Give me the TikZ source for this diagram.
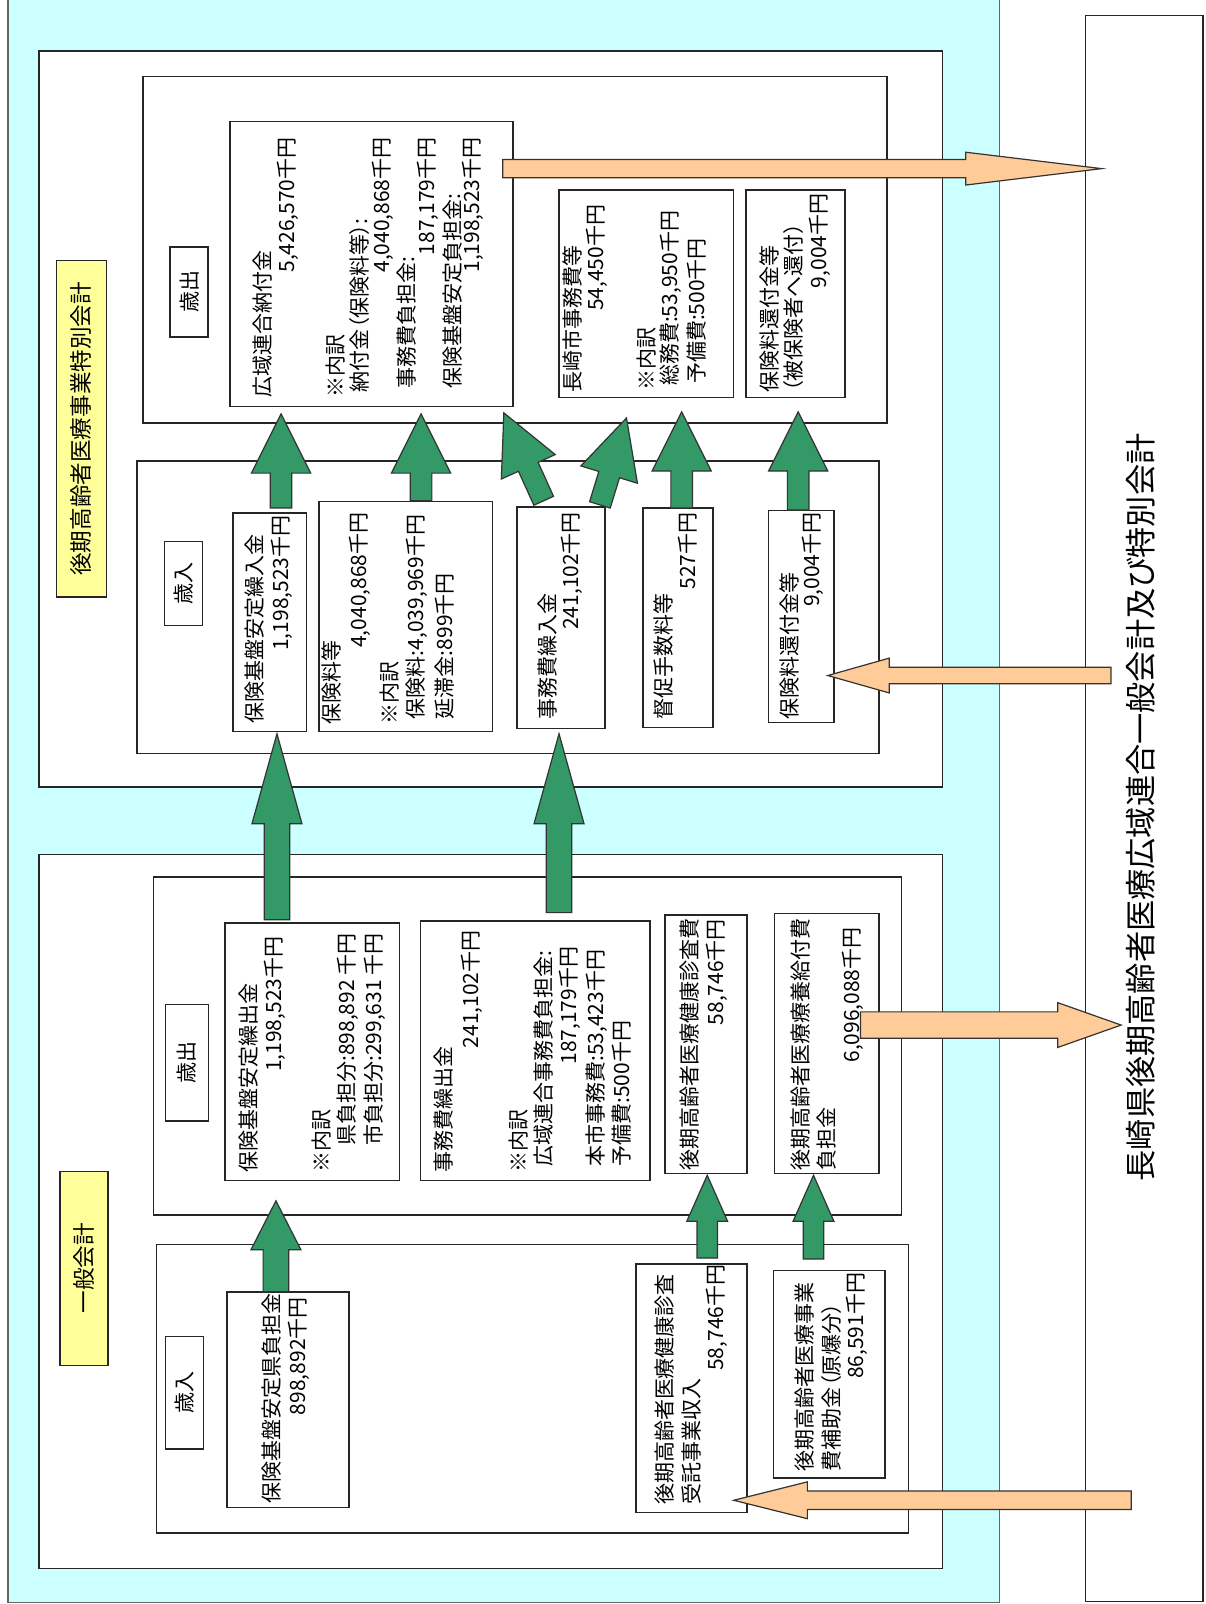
\documentclass[tikz,border=0pt]{standalone}
\usepackage{fontspec}
\setmainfont{Noto Sans CJK JP}[RawFeature=+palt]
\usetikzlibrary{calc}
\definecolor{cyanbg}{HTML}{CCFFFF}
\definecolor{yel}{HTML}{FFFF99}
\definecolor{grn}{HTML}{339966}
\definecolor{org}{HTML}{FFCC99}
\tikzset{
  box/.style={draw=black!85, line width=0.7pt, fill=white},
  lab/.style={draw=black!85, line width=0.7pt, fill=white, rotate=90, inner sep=0pt, font=\fontsize{10.5pt}{12pt}\selectfont},
  ylab/.style={lab, fill=yel, font=\fontsize{11.3pt}{13pt}\selectfont},
  txt/.style={rotate=90, inner sep=0pt, font=\fontsize{10.5pt}{12pt}\selectfont},
  lt/.style={txt, anchor=west},
  rt/.style={txt, anchor=east},
  garrow/.style={draw=black!80, line width=0.6pt, fill=grn},
  oarrow/.style={draw=black!80, line width=0.6pt, fill=org},
}
% block arrow: style, from, to, shaft half width, head half width, head length
\newcommand\blockarr[6]{%
  \coordinate (hb) at ($(#3)!#6!(#2)$);
  \draw[#1] ($(#2)!#4!90:(#3)$) -- ($(hb)!#4!90:(#3)$) -- ($(hb)!#5!90:(#3)$) -- (#3)
    -- ($(hb)!#5!-90:(#3)$) -- ($(hb)!#4!-90:(#3)$) -- ($(#2)!#4!-90:(#3)$) -- cycle;}
\begin{document}
\begin{tikzpicture}[x=0.511pt,y=-0.511pt]
\useasboundingbox (0,0) rectangle (1180,1569.5);
\fill[white] (0,0) rectangle (1180,1569.5);
% background
\draw[fill=cyanbg, draw=black!60, line width=0.7pt] (8,-5) rectangle (978,1568);
\draw[box] (1062,15) rectangle (1177,1567);
\node[txt, font=\fontsize{15.6pt}{17pt}\selectfont] (title) at (1116,790) {長崎県後期高齢者医療広域連合一般会計及び特別会計};

% ===== special account =====
\draw[box] (38,50) rectangle (922,770);
\node[ylab, minimum width=329*0.511pt, minimum height=49*0.511pt] (sLabel) at (79.5,419.5) {後期高齢者医療事業特別会計};
\draw[box] (140,75) rectangle (868,414);
\node[lab, minimum width=88*0.511pt, minimum height=37*0.511pt] (sOutLab) at (185,285.7) {歳出};
\draw[box] (134,451) rectangle (860,737);
\node[lab, minimum width=82*0.511pt, minimum height=37*0.511pt] (sInLab) at (179.5,571) {歳入};

% 歳出 boxes
\draw[box] (225,119) rectangle (502,398);
\node[lt] (s1a) at (257,389) {広域連合納付金};
\node[rt] (s1b) at (282,134) {5,426,570千円};
\node[lt] (s1c) at (328,389) {※内訳};
\node[lt] (s1d) at (352,384) {納付金（保険料等）:};
\node[rt] (s1e) at (375,134) {4,040,868千円};
\node[lt] (s1f) at (398,381) {事務費負担金:};
\node[rt] (s1g) at (419,134) {187,179千円};
\node[lt] (s1h) at (443,381) {保険基盤安定負担金:};
\node[rt] (s1i) at (463,134) {1,198,523千円};

\draw[box] (547,186) rectangle (718,389);
\node[lt] (s2a) at (560,384) {長崎市事務費等};
\node[rt] (s2b) at (584,200) {54,450千円};
\node[lt] (s2c) at (633,382) {※内訳};
\node[lt] (s2d) at (656,378) {総務費:53,950千円};
\node[lt] (s2e) at (682,376) {予備費:500千円};

\draw[box] (730,186) rectangle (827,389);
\node[lt] (s3a) at (753,384) {保険料還付金等};
\node[lt] (s3b) at (776,384) {（被保険者へ還付）};
\node[rt] (s3c) at (802,189) {9,004千円};

% 歳入 boxes
\draw[box] (228,502) rectangle (300,716);
\node[lt] (s4a) at (249.5,708) {保険基盤安定繰入金};
\node[rt] (s4b) at (276,504) {1,198,523千円};

\draw[box] (312,491) rectangle (482,716);
\node[lt] (s5a) at (324.6,709) {保険料等};
\node[rt] (s5b) at (352,501) {4,040,868千円};
\node[lt] (s5c) at (381.6,709) {※内訳};
\node[lt] (s5d) at (407.7,704) {保険料:4,039,969千円};
\node[lt] (s5e) at (435.4,704) {延滞金:899千円};

\draw[box] (506,496) rectangle (592,713);
\node[lt] (s6a) at (536,704.5) {事務費繰入金};
\node[rt] (s6b) at (559.6,500.6) {241,102千円};

\draw[box] (629,497) rectangle (697.6,712);
\node[lt] (s7a) at (649,704.5) {督促手数料等};
\node[rt] (s7b) at (673,501) {527千円};

\draw[box] (752,499.7) rectangle (816,707);
\node[lt] (s8a) at (773,704.5) {保険料還付金等};
\node[rt] (s8b) at (795.6,501) {9,004千円};

% ===== general account =====
\draw[box] (38,836) rectangle (922,1535);
\node[ylab, minimum width=190*0.511pt, minimum height=47*0.511pt] (gLabel) at (82.2,1241) {一般会計};
\draw[box] (150,858) rectangle (882,1189);
\node[lab, minimum width=114*0.511pt, minimum height=42*0.511pt] (gOutLab) at (183,1040) {歳出};
\draw[box] (153,1218) rectangle (889,1500);
\node[lab, minimum width=110*0.511pt, minimum height=37*0.511pt] (gInLab) at (180.5,1363) {歳入};

% 歳出 boxes
\draw[box] (220,903) rectangle (391,1155);
\node[lt] (g1a) at (242.8,1148) {保険基盤安定繰出金};
\node[rt] (g1b) at (269,916) {1,198,523千円};
\node[lt] (g1c) at (314.7,1148) {※内訳};
\node[rt] (g1d) at (340.6,913) {県負担分:898,892 千円};
\node[rt] (g1e) at (367,913) {市負担分:299,631 千円};

\draw[box] (411.6,901) rectangle (636,1155);
\node[lt] (g2a) at (433.6,1148) {事務費繰出金};
\node[rt] (g2b) at (461.5,910) {241,102千円};
\node[lt] (g2c) at (507,1148) {※内訳};
\node[lt] (g2d) at (531.6,1142) {広域連合事務費負担金:};
\node[rt] (g2e) at (557.7,926) {187,179千円};
\node[lt] (g2f) at (583.8,1142) {本市事務費:53,423千円};
\node[lt] (g2g) at (608.3,1142) {予備費:500千円};

\draw[box] (650.7,895.3) rectangle (731,1148);
\node[lt] (g3a) at (675,1146) {後期高齢者医療健康診査費};
\node[rt] (g3b) at (701.3,899) {58,746千円};

\draw[box] (758,893.6) rectangle (860,1148);
\node[lt] (g4a) at (783,1146) {後期高齢者医療療養給付費};
\node[lt] (g4b) at (809,1146) {負担金};
\node[rt] (g4c) at (834.8,907) {6,096,088千円};

% 歳入 boxes
\draw[box] (222,1264) rectangle (341.5,1475);
\node[lt] (g5a) at (265.8,1472) {保険基盤安定県負担金};
\node[rt] (g5b) at (291.9,1269) {898,892千円};

\draw[box] (622.3,1236.8) rectangle (731,1480);
\node[lt] (g6a) at (650.7,1473) {後期高齢者医療健康診査};
\node[lt] (g6b) at (676.8,1473) {受託事業収入};
\node[rt] (g6c) at (701.3,1237) {58,746千円};

\draw[box] (757,1243) rectangle (866,1446);
\node[lt] (g7a) at (787.7,1440) {後期高齢者医療事業};
\node[lt] (g7b) at (813.8,1440) {費補助金（原爆分）};
\node[rt] (g7c) at (838.2,1245) {86,591千円};

% ===== arrows =====
\coordinate (a1s) at (275,497);  \coordinate (a1e) at (275,405);
\coordinate (a2s) at (412,490);  \coordinate (a2e) at (412,405);
\coordinate (a3s) at (532,490);  \coordinate (a3e) at (493,404);
\coordinate (a4s) at (587,494);  \coordinate (a4e) at (613,409);
\coordinate (a5s) at (667,497);  \coordinate (a5e) at (667,403);
\coordinate (a6s) at (781,499);  \coordinate (a6e) at (781,403);
\coordinate (a7s) at (271,900);  \coordinate (a7e) at (271,718);
\coordinate (a8s) at (547,893);  \coordinate (a8e) at (547,718);
\coordinate (a9s) at (270,1264); \coordinate (a9e) at (270,1175);
\coordinate (a10s) at (692,1231); \coordinate (a10e) at (692,1150);
\coordinate (a11s) at (796,1232); \coordinate (a11e) at (796,1150);
\blockarr{garrow}{a1s}{a1e}{5.4pt}{14.8pt}{29.6pt}
\blockarr{garrow}{a2s}{a2e}{5.4pt}{14.8pt}{29.6pt}
\blockarr{garrow}{a3s}{a3e}{5.4pt}{14.8pt}{29.6pt}
\blockarr{garrow}{a4s}{a4e}{5.4pt}{14.8pt}{29.6pt}
\blockarr{garrow}{a5s}{a5e}{5.4pt}{14.8pt}{29.6pt}
\blockarr{garrow}{a6s}{a6e}{5.4pt}{14.8pt}{29.6pt}
\blockarr{garrow}{a7s}{a7e}{6.4pt}{12.5pt}{45pt}
\blockarr{garrow}{a8s}{a8e}{6.4pt}{12.5pt}{45pt}
\blockarr{garrow}{a9s}{a9e}{6.4pt}{12.5pt}{24.5pt}
\blockarr{garrow}{a10s}{a10e}{5.1pt}{10.2pt}{23pt}
\blockarr{garrow}{a11s}{a11e}{5.1pt}{10.2pt}{23pt}

\coordinate (b1s) at (492,165);  \coordinate (b1e) at (1078,165);
\coordinate (b2s) at (1087,661); \coordinate (b2e) at (810,661);
\coordinate (b3s) at (842,1003); \coordinate (b3e) at (1097,1003);
\coordinate (b4s) at (1107,1468); \coordinate (b4e) at (718,1468);
\blockarr{oarrow}{b1s}{b1e}{4.6pt}{8.2pt}{68pt}
\blockarr{oarrow}{b2s}{b2e}{4.1pt}{8.7pt}{30.7pt}
\blockarr{oarrow}{b3s}{b3e}{6.6pt}{11.2pt}{31.7pt}
\blockarr{oarrow}{b4s}{b4e}{4.6pt}{9.2pt}{36.8pt}
\end{tikzpicture}
\end{document}
